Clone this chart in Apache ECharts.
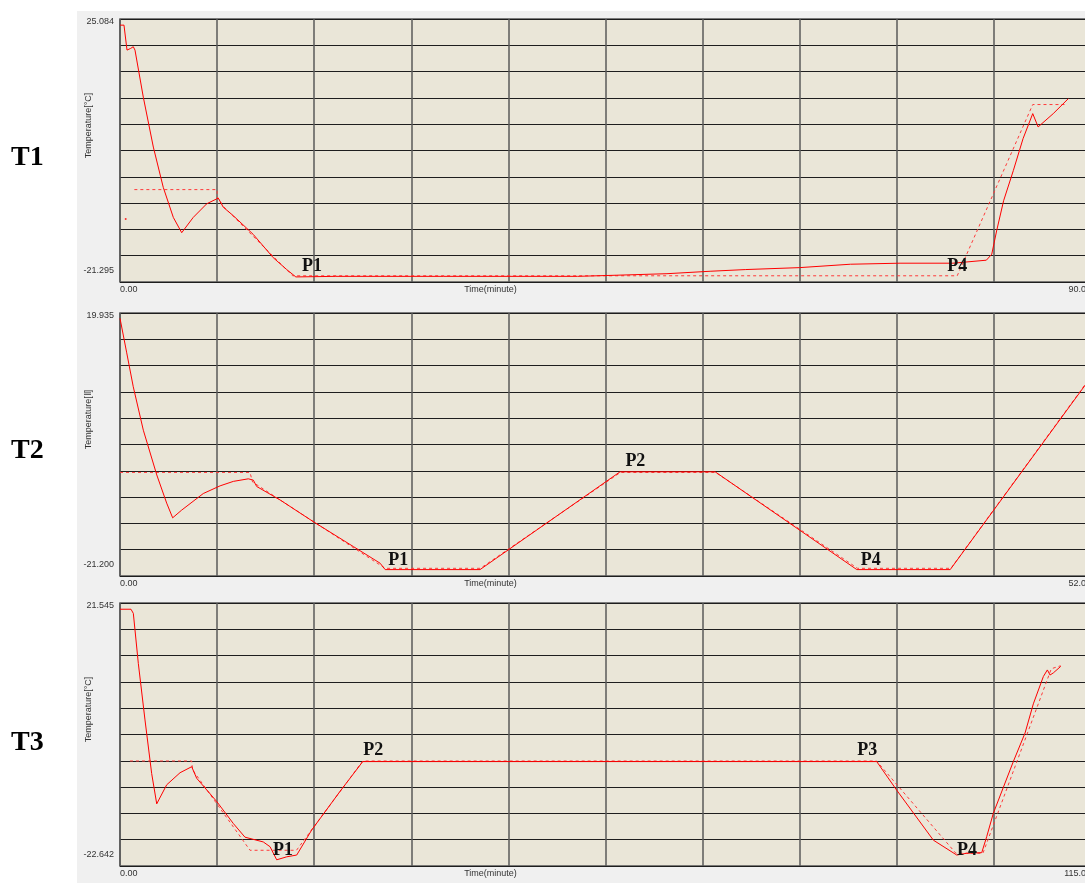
<!DOCTYPE html>
<html>
<head>
<meta charset="utf-8">
<script src="https://cdn.jsdelivr.net/npm/echarts@6/dist/echarts.min.js"></script>
<style>
  html, body { margin: 0; padding: 0; background: #ffffff; }
  #panelBg { position: absolute; left: 77px; top: 11px; width: 1008px; height: 872px; background: #f0f0f0; }
  #main { position: absolute; left: 0; top: 0; width: 1085px; height: 883px; }
</style>
</head>
<body>
<div id="panelBg"></div>
<div id="main"></div>
<script>
// T1 test: measured temperature and set point (minute, °C)
var t1Time = [0, 0.37, 0.65, 0.99, 1.23, 1.39, 2.16, 3.09, 4.01, 4.94, 5.72, 6.79, 8.04, 9.11, 9.57, 10.5, 12.35, 14.2, 15.45, 16.3, 20, 30, 42.4, 46, 50.7, 54.7, 58, 63, 67.7, 72.3, 77.2, 80.3, 80.8, 81.25, 81.9, 82.8, 83.7, 84.6, 85.1, 86.5, 87.9];
var t1Temp = [24.0, 24.0, 19.6, 19.9, 20.2, 19.6, 11.3, 2.5, -4.6, -9.9, -12.6, -9.9, -7.5, -6.5, -8.1, -9.6, -12.9, -17.0, -19.1, -20.4, -20.3, -20.3, -20.3, -20.1, -19.83, -19.4, -19.1, -18.76, -18.16, -17.98, -17.98, -17.45, -16.4, -12.3, -6.96, -1.65, 3.97, 8.4, 6.05, 8.4, 11.04];
var t1SetTime = [1.33, 9.0, 9.0, 9.6, 16.0, 77.6, 84.6, 87.7];
var t1SetTemp = [-5, -5, -6.3, -8.0, -20.2, -20.2, 10, 10];
var t1StrayTime = [0.53];
var t1StrayTemp = [-10.2];
var t1MarkNames = ['P1', 'P4'];
var t1MarkTime = [17.8, 77.6];
var t1MarkTemp = [-18.6, -18.6];

// T2 test
var t2Time = [0, 0.36, 0.71, 1.25, 1.97, 2.5, 2.82, 3.3, 4.46, 5.36, 6.07, 6.87, 7.14, 7.32, 8.57, 10.35, 12.5, 13.93, 14.2, 19.28, 26.78, 31.87, 39.46, 44.46, 52];
var t2Temp = [19.1, 13.7, 8.4, 1.6, -5.4, -9.8, -12.1, -10.9, -8.3, -7.1, -6.4, -6.0, -6.2, -7.2, -9.3, -12.7, -16.6, -19.2, -20.2, -20.2, -4.9, -4.9, -20.2, -20.2, 9.9];
var t2SetTime = [0, 6.96, 7.1, 14.2, 19.3, 26.8, 31.9, 39.5, 44.5, 52];
var t2SetTemp = [-5, -5, -6.5, -20, -20, -5, -5, -20, -20, 10];
var t2MarkNames = ['P1', 'P2', 'P4'];
var t2MarkTime = [14.9, 27.6, 40.2];
var t2MarkTemp = [-18.7, -3.2, -18.7];

// T3 test
var t3Time = [0, 1.3, 1.58, 2.17, 2.96, 3.75, 4.35, 5.53, 7.11, 8.49, 9.08, 11.45, 13.42, 14.8, 16.97, 17.77, 18.56, 19.74, 20.93, 22.7, 26.06, 28.75, 89.62, 91.99, 96.33, 99.1, 100.28, 102.06, 102.65, 103.43, 105.8, 107.19, 108.17, 109.36, 109.83, 110.15, 110.54, 111.42];
var t3Temp = [20.5, 20.5, 19.8, 11.4, 1.9, -7.1, -12.2, -9.0, -6.97, -5.96, -7.9, -11.8, -15.5, -17.8, -18.6, -19.4, -21.6, -21.1, -20.8, -16.6, -10.1, -5.1, -5.1, -9.9, -18.3, -20.8, -20.5, -20.4, -17.7, -13.8, -5.1, -0.3, 4.6, 9.2, 10.3, 9.45, 9.8, 10.9];
var t3SetTime = [1.18, 8.49, 8.6, 15.4, 20.9, 28.75, 89.6, 99.0, 102.2, 110.3, 111.4];
var t3SetTemp = [-5, -5, -6.5, -20, -20, -5, -5, -20.5, -20.5, 10.5, 11];
var t3MarkNames = ['P1', 'P2', 'P3', 'P4'];
var t3MarkTime = [19.3, 30.0, 88.5, 100.3];
var t3MarkTemp = [-19.95, -3.15, -3.15, -19.95];

// axis ranges and names
var panelNames = ['T1', 'T2', 'T3'];
var xMaxes = [90, 52, 115];
var yMins = [-21.295, -21.2, -22.642];
var yMaxes = [25.084, 19.935, 21.545];
var yNames = ['Temperature[°C]', 'Temperature[Ⅱ]', 'Temperature[°C]'];

var panels = [
  { time: t1Time, temp: t1Temp, setTime: t1SetTime, setTemp: t1SetTemp, names: t1MarkNames, mt: t1MarkTime, mv: t1MarkTemp },
  { time: t2Time, temp: t2Temp, setTime: t2SetTime, setTemp: t2SetTemp, names: t2MarkNames, mt: t2MarkTime, mv: t2MarkTemp },
  { time: t3Time, temp: t3Temp, setTime: t3SetTime, setTemp: t3SetTemp, names: t3MarkNames, mt: t3MarkTime, mv: t3MarkTemp }
];

var gridTops = [19, 313, 603];
var labelYs = [158, 451, 743];
var smallFont = { fontFamily: 'Liberation Sans', fontSize: 9, color: '#333' };

function pairs(xs, ys) {
  return xs.map(function (x, i) { return [x, ys[i]]; });
}

var grid = [], xAxis = [], yAxis = [], series = [], graphic = [];

panels.forEach(function (p, i) {
  var xMax = xMaxes[i], yMin = yMins[i], yMax = yMaxes[i];
  grid.push({
    left: 120, top: gridTops[i], width: 971, height: 263,
    outerBoundsMode: 'none', containLabel: false,
    show: true, backgroundColor: '#eae6d8', borderColor: '#555', borderWidth: 1.5
  });
  xAxis.push({
    type: 'value', gridIndex: i, min: 0, max: xMax, interval: xMax / 10,
    axisLine: { show: false }, axisTick: { show: false },
    splitLine: { show: true, lineStyle: { color: '#5a5a5a', width: 1.5 } },
    axisLabel: Object.assign({
      margin: 3, showMinLabel: true, showMaxLabel: true,
      alignMinLabel: 'left', alignMaxLabel: 'right',
      formatter: function (v) {
        if (Math.abs(v) < 1e-9) return '0.00';
        if (Math.abs(v - xMax) < 1e-6) return xMax.toFixed(2);
        return '';
      }
    }, smallFont),
    name: 'Time(minute)', nameLocation: 'middle', nameGap: 3, nameMoveOverlap: false,
    nameTextStyle: Object.assign({ padding: [0, 230, 0, 0] }, smallFont)
  });
  // data axis: only min / max labels
  yAxis.push({
    type: 'value', gridIndex: i, min: yMin, max: yMax,
    axisLine: { show: false }, axisTick: { show: false }, splitLine: { show: false },
    axisLabel: Object.assign({
      margin: 6, showMinLabel: true, showMaxLabel: true,
      formatter: function (v) {
        if (Math.abs(v - yMin) < 1e-9) return '{mn|' + yMin.toFixed(3) + '}';
        if (Math.abs(v - yMax) < 1e-9) return '{mx|' + yMax.toFixed(3) + '}';
        return '';
      },
      rich: {
        mn: { fontFamily: 'Liberation Sans', fontSize: 9, color: '#333', padding: [0, 0, 22, 0] },
        mx: { fontFamily: 'Liberation Sans', fontSize: 9, color: '#333', padding: [6, 0, 0, 0] }
      }
    }, smallFont),
    name: yNames[i], nameLocation: 'middle', nameRotate: 90, nameGap: 27, nameMoveOverlap: false,
    nameTextStyle: Object.assign({ padding: [0, 0, 0, 50] }, smallFont)
  });
  // helper axis for the ten horizontal grid divisions
  yAxis.push({
    type: 'value', gridIndex: i, min: 0, max: 10, interval: 1, position: 'left',
    axisLine: { show: false }, axisTick: { show: false }, axisLabel: { show: false },
    splitLine: { show: true, lineStyle: { color: '#1e1e1e', width: 1 } }
  });

  series.push({
    type: 'line', xAxisIndex: i, yAxisIndex: i * 2, data: pairs(p.setTime, p.setTemp),
    symbol: 'none', lineStyle: { color: '#ff3a3a', width: 1, type: [3, 3] }, z: 3
  });
  series.push({
    type: 'line', xAxisIndex: i, yAxisIndex: i * 2, data: pairs(p.time, p.temp),
    symbol: 'none', lineStyle: { color: '#ff0000', width: 1 }, z: 4,
    markPoint: {
      symbol: 'circle', symbolSize: 1, itemStyle: { color: 'rgba(0,0,0,0)' },
      label: {
        show: true, position: 'inside', formatter: '{b}',
        fontFamily: 'Liberation Serif', fontWeight: 'bold', fontSize: 18, color: '#111'
      },
      data: p.names.map(function (n, k) { return { name: n, coord: [p.mt[k], p.mv[k]] }; })
    }
  });

  graphic.push({
    type: 'text', left: 11, top: labelYs[i] - 14,
    style: { text: panelNames[i], font: 'bold 28px "Liberation Serif"', fill: '#000' }
  });
});

series.push({
  type: 'scatter', xAxisIndex: 0, yAxisIndex: 0, data: pairs(t1StrayTime, t1StrayTemp),
  symbolSize: 2, itemStyle: { color: '#ff0000' }
});

var myChart = echarts.init(document.getElementById('main'));
myChart.setOption({
  animation: false,
  backgroundColor: 'transparent',
  grid: grid,
  xAxis: xAxis,
  yAxis: yAxis,
  series: series,
  graphic: graphic
});
</script>
</body>
</html>
